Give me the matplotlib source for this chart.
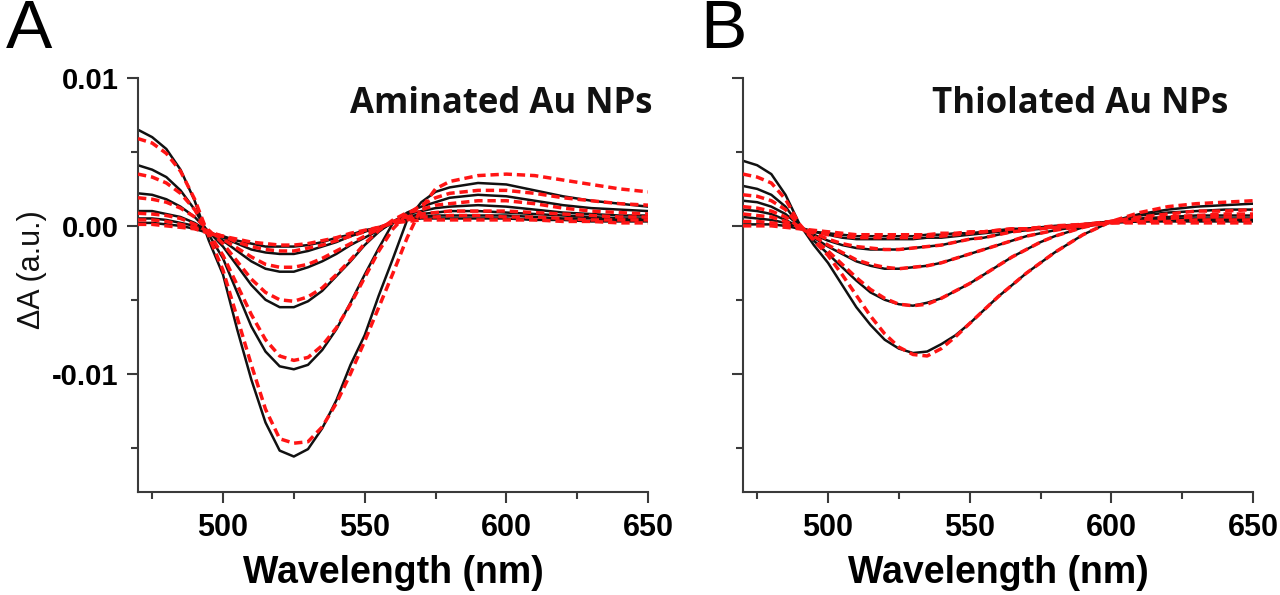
import matplotlib
matplotlib.use("Agg")
import matplotlib.pyplot as plt
from matplotlib.ticker import FixedLocator, FixedFormatter

# ---------------- data ----------------
wavelength = [470, 475, 480, 485, 490, 495, 500, 505, 510, 515, 520, 525, 530, 535,
              540, 545, 550, 555, 560, 565, 570, 575, 580, 590, 600, 610, 620, 630, 640, 650]

# Panel A: aminated Au NPs  (measured = black solid, fit = red dashed)
a_meas_1 = [0.0065, 0.0060, 0.0052, 0.0038, 0.0017, -0.0010, -0.0033, -0.0070, -0.0104, -0.0133,
            -0.0152, -0.0156, -0.0151, -0.0137, -0.0118, -0.0094, -0.0074, -0.0047, -0.0022, 0.0004,
            0.0016, 0.0023, 0.0026, 0.0029, 0.0028, 0.0024, 0.0020, 0.0017, 0.0015, 0.0013]
a_meas_2 = [0.0041, 0.0038, 0.0033, 0.0024, 0.0011, -0.0006, -0.0022, -0.0045, -0.0068, -0.0085,
            -0.0095, -0.0097, -0.0094, -0.0084, -0.0070, -0.0052, -0.0033, -0.0015, 0.0002, 0.0009,
            0.0013, 0.0016, 0.0019, 0.0021, 0.0020, 0.0017, 0.0014, 0.0012, 0.0011, 0.0010]
a_meas_3 = [0.0022, 0.0021, 0.0018, 0.0013, 0.0006, -0.0004, -0.0014, -0.0027, -0.0040, -0.0050,
            -0.0055, -0.0055, -0.0051, -0.0044, -0.0034, -0.0024, -0.0013, -0.0004, 0.0003, 0.0008,
            0.0010, 0.0012, 0.0013, 0.0014, 0.0013, 0.0011, 0.0009, 0.0008, 0.0007, 0.0007]
a_meas_4 = [0.0010, 0.0010, 0.0008, 0.0006, 0.0002, -0.0004, -0.0010, -0.0017, -0.0024, -0.0029,
            -0.0031, -0.0031, -0.0028, -0.0024, -0.0019, -0.0013, -0.0008, -0.0003, 0.0002, 0.0006,
            0.0008, 0.0009, 0.0010, 0.0010, 0.0009, 0.0008, 0.0007, 0.0006, 0.0005, 0.0005]
a_meas_5 = [0.0005, 0.0005, 0.0004, 0.0002, 0.0000, -0.0004, -0.0008, -0.0012, -0.0016, -0.0018,
            -0.0019, -0.0019, -0.0017, -0.0014, -0.0011, -0.0007, -0.0004, -0.0001, 0.0002, 0.0005,
            0.0006, 0.0007, 0.0007, 0.0007, 0.0007, 0.0006, 0.0005, 0.0005, 0.0004, 0.0004]
a_meas_6 = [0.0002, 0.0002, 0.0001, 0.0000, -0.0002, -0.0005, -0.0007, -0.0010, -0.0012, -0.0014,
            -0.0014, -0.0014, -0.0013, -0.0011, -0.0008, -0.0006, -0.0003, -0.0001, 0.0002, 0.0004,
            0.0005, 0.0005, 0.0005, 0.0005, 0.0005, 0.0004, 0.0004, 0.0003, 0.0003, 0.0003]

a_fit_1 = [0.0059, 0.0056, 0.0049, 0.0037, 0.0018, -0.0007, -0.0030, -0.0062, -0.0094, -0.0124,
           -0.0144, -0.0147, -0.0146, -0.0136, -0.0120, -0.0100, -0.0078, -0.0055, -0.0032, -0.0008,
           0.0012, 0.0025, 0.0030, 0.0034, 0.0035, 0.0034, 0.0031, 0.0028, 0.0025, 0.0023]
a_fit_2 = [0.0035, 0.0033, 0.0029, 0.0022, 0.0011, -0.0005, -0.0020, -0.0040, -0.0060, -0.0077,
           -0.0088, -0.0091, -0.0089, -0.0081, -0.0069, -0.0053, -0.0035, -0.0017, -0.0002, 0.0008,
           0.0014, 0.0019, 0.0022, 0.0024, 0.0024, 0.0022, 0.0019, 0.0017, 0.0015, 0.0014]
a_fit_3 = [0.0019, 0.0018, 0.0016, 0.0012, 0.0006, -0.0003, -0.0012, -0.0024, -0.0036, -0.0045,
           -0.0050, -0.0051, -0.0048, -0.0042, -0.0033, -0.0023, -0.0012, -0.0003, 0.0004, 0.0009,
           0.0011, 0.0014, 0.0015, 0.0017, 0.0017, 0.0015, 0.0012, 0.0010, 0.0009, 0.0008]
a_fit_4 = [0.00085, 0.0008, 0.0007, 0.0005, 0.0001, -0.0004, -0.0009, -0.0015, -0.0021, -0.0026,
           -0.0028, -0.0028, -0.0026, -0.0022, -0.0017, -0.0012, -0.0007, -0.0002, 0.0003, 0.0006,
           0.0008, 0.0009, 0.0010, 0.0010, 0.0010, 0.0009, 0.0008, 0.0007, 0.0006, 0.0006]
a_fit_5 = [0.0004, 0.0004, 0.0003, 0.0001, -0.0001, -0.0004, -0.0007, -0.0011, -0.0014, -0.0016,
           -0.0017, -0.0017, -0.0015, -0.0013, -0.0010, -0.0007, -0.0004, -0.0001, 0.0002, 0.0004,
           0.0006, 0.0006, 0.0007, 0.0007, 0.0006, 0.0006, 0.0005, 0.0004, 0.0004, 0.0004]
a_fit_6 = [0.0001, 0.0001, 0.0000, -0.0001, -0.0002, -0.0005, -0.0007, -0.0009, -0.0011, -0.0012,
           -0.0013, -0.0013, -0.0012, -0.0010, -0.0008, -0.0005, -0.0003, -0.0001, 0.0002, 0.0003,
           0.0004, 0.0004, 0.0004, 0.0004, 0.0004, 0.0004, 0.0003, 0.0003, 0.0002, 0.0002]

# Panel B: thiolated Au NPs
b_meas_1 = [0.0044, 0.0041, 0.0035, 0.0021, 0.0001, -0.0013, -0.0025, -0.0040, -0.0055, -0.0067,
            -0.0077, -0.0083, -0.0086, -0.0085, -0.0080, -0.0074, -0.0066, -0.0057, -0.0048, -0.0040,
            -0.0032, -0.0025, -0.0018, -0.0006, 0.0003, 0.0008, 0.0011, 0.0013, 0.0014, 0.0015]
b_meas_2 = [0.0027, 0.0025, 0.0021, 0.0013, 0.0000, -0.0010, -0.0019, -0.0028, -0.0037, -0.0045,
            -0.0050, -0.0053, -0.0054, -0.0052, -0.0049, -0.0044, -0.0039, -0.0033, -0.0027, -0.0021,
            -0.0016, -0.0011, -0.0007, -0.0001, 0.0003, 0.0007, 0.0009, 0.0010, 0.0011, 0.0011]
b_meas_3 = [0.0017, 0.0016, 0.0013, 0.0008, 0.0000, -0.0008, -0.0014, -0.0019, -0.0024, -0.0027,
            -0.0029, -0.0029, -0.0028, -0.0027, -0.0025, -0.0022, -0.0019, -0.0016, -0.0013, -0.0010,
            -0.0007, -0.0005, -0.0003, 0.0000, 0.0003, 0.0005, 0.0006, 0.0007, 0.0007, 0.0007]
b_meas_4 = [0.0011, 0.0010, 0.0008, 0.0004, -0.0001, -0.0006, -0.0010, -0.0013, -0.0015, -0.0016,
            -0.0016, -0.0016, -0.0015, -0.0014, -0.0013, -0.0011, -0.0009, -0.0008, -0.0006, -0.0004,
            -0.0003, -0.0002, -0.0001, 0.0001, 0.0003, 0.0004, 0.0005, 0.0005, 0.0005, 0.0005]
b_meas_5 = [0.0006, 0.0005, 0.0004, 0.0002, -0.0001, -0.0004, -0.0006, -0.0008, -0.0009, -0.0009,
            -0.0009, -0.0009, -0.0009, -0.0008, -0.0008, -0.0007, -0.0006, -0.0005, -0.0004, -0.0003,
            -0.0002, -0.0001, 0.0000, 0.0001, 0.0003, 0.0003, 0.0004, 0.0004, 0.0004, 0.0004]
b_meas_6 = [0.0001, 0.0001, 0.0001, 0.0000, -0.0002, -0.0004, -0.0005, -0.0006, -0.0007, -0.0007,
            -0.0007, -0.0007, -0.0007, -0.0006, -0.0006, -0.0005, -0.0005, -0.0004, -0.0003, -0.0002,
            -0.0002, -0.0001, -0.0001, 0.0001, 0.0002, 0.0003, 0.0003, 0.0003, 0.0003, 0.0003]

b_fit_1 = [0.0035, 0.0033, 0.0029, 0.0018, 0.0001, -0.0010, -0.0020, -0.0033, -0.0047, -0.0061,
           -0.0073, -0.0082, -0.0087, -0.0088, -0.0083, -0.0075, -0.0066, -0.0057, -0.0048, -0.0040,
           -0.0032, -0.0025, -0.0018, -0.0006, 0.0003, 0.0009, 0.0013, 0.0015, 0.0016, 0.0017]
b_fit_2 = [0.0021, 0.0020, 0.0017, 0.0011, 0.0000, -0.0009, -0.0017, -0.0026, -0.0035, -0.0043,
           -0.0049, -0.0053, -0.0054, -0.0053, -0.0049, -0.0044, -0.0039, -0.0033, -0.0027, -0.0021,
           -0.0016, -0.0011, -0.0007, -0.0001, 0.0003, 0.0006, 0.0008, 0.0010, 0.0010, 0.0011]
b_fit_3 = [0.0013, 0.0012, 0.0010, 0.0006, -0.0001, -0.0007, -0.0013, -0.0018, -0.0023, -0.0026,
           -0.0028, -0.0029, -0.0028, -0.0027, -0.0025, -0.0022, -0.0019, -0.0016, -0.0013, -0.0010,
           -0.0007, -0.0005, -0.0003, 0.0000, 0.0003, 0.0005, 0.0006, 0.0007, 0.0008, 0.0008]
b_fit_4 = [0.0008, 0.0007, 0.0006, 0.0003, -0.0001, -0.0005, -0.0009, -0.0012, -0.0014, -0.0015,
           -0.0016, -0.0016, -0.0015, -0.0014, -0.0013, -0.0011, -0.0009, -0.0008, -0.0006, -0.0004,
           -0.0003, -0.0002, -0.0001, 0.0001, 0.0003, 0.0004, 0.0005, 0.0006, 0.0006, 0.0006]
b_fit_5 = [0.0003, 0.0003, 0.0002, 0.0001, -0.0001, -0.0004, -0.0006, -0.0007, -0.0008, -0.0008,
           -0.0008, -0.0008, -0.0008, -0.0007, -0.0007, -0.0006, -0.0005, -0.0004, -0.0003, -0.0002,
           -0.0002, -0.0001, 0.0000, 0.0001, 0.0002, 0.0003, 0.0003, 0.0004, 0.0004, 0.0004]
b_fit_6 = [0.0000, 0.0000, 0.0000, -0.0001, -0.0002, -0.0003, -0.0004, -0.0005, -0.0006, -0.0006,
           -0.0006, -0.0006, -0.0006, -0.0006, -0.0005, -0.0005, -0.0004, -0.0004, -0.0003, -0.0002,
           -0.0002, -0.0001, -0.0001, 0.0000, 0.0002, 0.0002, 0.0002, 0.0002, 0.0002, 0.0002]

panel_titles = ["Aminated Au NPs", "Thiolated Au NPs"]
panel_letters = ["A", "B"]
x_major = [500, 550, 600, 650]
x_minor = [475, 525, 575, 625]
y_major = [-0.01, 0.0, 0.01]
y_major_labels = ["-0.01", "0.00", "0.01"]
y_minor = [-0.015, -0.005, 0.005]
x_label = "Wavelength (nm)"
y_label = "\u0394A (a.u.)"

panels = [
    ([a_meas_1, a_meas_2, a_meas_3, a_meas_4, a_meas_5, a_meas_6],
     [a_fit_1, a_fit_2, a_fit_3, a_fit_4, a_fit_5, a_fit_6]),
    ([b_meas_1, b_meas_2, b_meas_3, b_meas_4, b_meas_5, b_meas_6],
     [b_fit_1, b_fit_2, b_fit_3, b_fit_4, b_fit_5, b_fit_6]),
]

# ---------------- figure ----------------
W, H = 1280, 595
fig = plt.figure(figsize=(W / 100, H / 100), dpi=100)
fig.patch.set_facecolor("white")

ax_left_px = [138, 743]
ax_w_px = 510
ax_top_px = 78
ax_bot_px = 492

spine_col = "#3a3a3a"
for i, (meas, fits) in enumerate(panels):
    x0 = ax_left_px[i] / W
    ax = fig.add_axes([x0, 1 - ax_bot_px / H, ax_w_px / W, (ax_bot_px - ax_top_px) / H])
    for s in meas:
        ax.plot(wavelength, s, color="#111111", lw=1.8, solid_joinstyle="round",
                solid_capstyle="round", zorder=2)
    for s in fits:
        ax.plot(wavelength, s, color="#ff1414", lw=2.5, ls=(0, (2.4, 1.4)),
                dash_joinstyle="round", zorder=3)
    ax.set_xlim(470, 650)
    ax.set_ylim(-0.018, 0.01)
    for side in ["top", "right"]:
        ax.spines[side].set_visible(False)
    for side in ["left", "bottom"]:
        ax.spines[side].set_color(spine_col)
        ax.spines[side].set_linewidth(1.5)
    ax.xaxis.set_major_locator(FixedLocator(x_major))
    ax.xaxis.set_minor_locator(FixedLocator(x_minor))
    ax.yaxis.set_major_locator(FixedLocator(y_major))
    ax.yaxis.set_minor_locator(FixedLocator(y_minor))
    ax.set_xticklabels([str(v) for v in x_major], fontsize=22, fontweight="bold",
                       family="Liberation Sans")
    if i == 0:
        ax.yaxis.set_major_formatter(FixedFormatter(y_major_labels))
        for t in ax.get_yticklabels():
            t.set_fontsize(21)
            t.set_fontweight("bold")
            t.set_family("Liberation Sans")
    else:
        ax.set_yticklabels([])
    ax.tick_params(which="major", direction="out", length=8, width=1.5, color=spine_col, pad=6)
    ax.tick_params(which="minor", direction="out", length=5, width=1.5, color=spine_col)
    ax.tick_params(axis="x", which="major", pad=7)
    ax.set_xlabel(x_label, fontsize=27, fontweight="bold", family="Liberation Sans", labelpad=9)
    ax.set_facecolor("none")

    # panel title inside the axes
    title_right_px = [652, 1228][i]
    fig.text(title_right_px / W, 1 - 104 / H, panel_titles[i], ha="right", va="center",
             fontsize=25, fontweight="bold", family="Open Sans", color="#111111")
    # panel letter
    letter_x_px = [6, 700][i]
    fig.text(letter_x_px / W, 1 - 30 / H, panel_letters[i], ha="left", va="center",
             fontsize=50, family="Liberation Sans", color="black")

fig.text(32 / W, 1 - 270 / H, y_label, rotation=90, ha="center", va="center",
         fontsize=22, family="Liberation Sans", color="#111111")

fig.savefig("out.png", dpi=100, facecolor="white")
